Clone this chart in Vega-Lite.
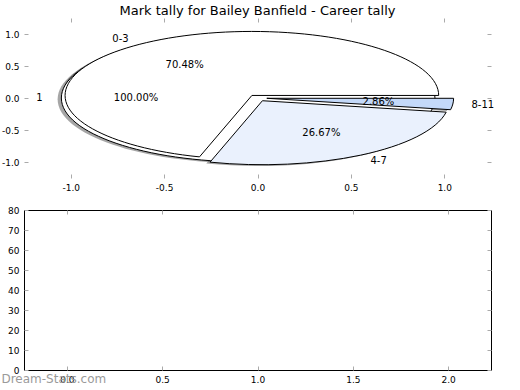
{
  "$schema": "https://vega.github.io/schema/vega-lite/v6.json",
  "background": "white",
  "padding": {"left": 1, "top": 4, "right": 0, "bottom": 0},
  "autosize": {"type": "pad"},
  "datasets": {
    "wedges": [
      {"pie": "a", "label": "1", "value": 105, "pct": "100.00%", "cx": -0.05, "cy": 0, "lx": -1.15, "ly": 0, "px": -0.65, "py": 0},
      {"pie": "b", "label": "0-3", "value": 74, "pct": "70.48%", "cx": -0.03, "cy": 0.04, "lx": -0.6898, "ly": 0.9202, "px": -0.3899, "py": 0.5201},
      {"pie": "b", "label": "4-7", "value": 28, "pct": "26.67%", "cx": 0.0263, "cy": -0.0425, "lx": 0.6045, "ly": -0.9783, "px": 0.3417, "py": -0.5529},
      {"pie": "b", "label": "8-11", "value": 3, "pct": "2.86%", "cx": 0.0498, "cy": -0.0045, "lx": 1.1454, "ly": -0.1031, "px": 0.6474, "py": -0.0583}
    ],
    "empty": [
      {"x": 0, "count": 0},
      {"x": 1, "count": 0},
      {"x": 2, "count": 0}
    ]
  },
  "title": {
    "text": "Dream-Stats.com",
    "orient": "bottom",
    "anchor": "start",
    "frame": "bounds",
    "offset": -11,
    "font": "DejaVu Sans",
    "fontSize": 12,
    "fontWeight": "normal",
    "color": "#9a9a9a"
  },
  "bounds": "flush",
  "spacing": 32,
  "vconcat": [
    {
      "title": {
        "text": "Mark tally for Bailey Banfield - Career tally",
        "font": "DejaVu Sans",
        "fontSize": 13,
        "fontWeight": "normal",
        "color": "black",
        "offset": 0
      },
      "width": 467,
      "height": 160,
      "view": {"stroke": null},
      "data": {"name": "wedges"},
      "layer": [
        {
          "mark": {"type": "point", "filled": true, "size": 139577, "opacity": 0.5, "color": "#4d4d4d", "strokeWidth": 0, "xOffset": -3.74, "yOffset": 1.28},
          "encoding": {
            "x": {"field": "cx", "type": "quantitative", "scale": {"domain": [-1.25, 1.25], "nice": false, "zero": false},
              "axis": {"orient": "bottom", "values": [-1, -0.5, 0, 0.5, 1], "format": ".1f", "title": null}},
            "y": {"field": "cy", "type": "quantitative", "scale": {"domain": [-1.25, 1.25], "nice": false, "zero": false},
              "axis": {"orient": "left", "values": [-1, -0.5, 0, 0.5, 1], "format": ".1f", "title": null}},
            "shape": {"field": "label", "type": "nominal", "legend": null,
              "scale": {"domain": ["1", "0-3", "4-7", "8-11"],
                "range": [
                  "M1 0C1 -0.18922 0.55228 -0.34261 0 -0.34261C-0.55228 -0.34261 -1 -0.18922 -1 0C-1 0.18922 -0.55228 0.34261 0 0.34261C0.55228 0.34261 1 0.18922 1 0Z",
                  "M0 0L1 0C1 -0.17666 0.60794 -0.32436 0.09461 -0.34107C-0.41871 -0.35779 -0.88498 -0.23803 -0.9821 -0.06453C-1.07923 0.10897 -0.77538 0.27932 -0.28043 0.32886Z",
                  "M0 0L-0.28043 0.32886C-0.0084 0.35609 0.28459 0.3425 0.52568 0.29145C0.76677 0.24041 0.93332 0.15672 0.98393 0.06118Z",
                  "M0 0L0.98393 0.06118C0.99462 0.04099 1 0.02052 1 0Z"
                ]}}
          }
        },
        {
          "mark": {"type": "point", "filled": true, "size": 139577, "opacity": 1, "stroke": "black", "strokeWidth": 1, "strokeJoin": "miter"},
          "encoding": {
            "x": {"field": "cx", "type": "quantitative", "scale": {"domain": [-1.25, 1.25], "nice": false, "zero": false}, "axis": null},
            "y": {"field": "cy", "type": "quantitative", "scale": {"domain": [-1.25, 1.25], "nice": false, "zero": false}, "axis": null},
            "shape": {"field": "label", "type": "nominal", "legend": null},
            "fill": {"field": "label", "type": "nominal", "legend": null,
              "scale": {"domain": ["1", "0-3", "4-7", "8-11"], "range": ["#ffffff", "#ffffff", "#eaf1fd", "#c4d9f9"]}}
          }
        },
        {
          "transform": [{"filter": "datum.lx < 0"}],
          "mark": {"type": "text", "align": "right", "baseline": "middle", "font": "DejaVu Sans", "fontSize": 10, "color": "black"},
          "encoding": {
            "x": {"field": "lx", "type": "quantitative", "scale": {"domain": [-1.25, 1.25], "nice": false, "zero": false}, "axis": null},
            "y": {"field": "ly", "type": "quantitative", "scale": {"domain": [-1.25, 1.25], "nice": false, "zero": false}, "axis": null},
            "text": {"field": "label"}
          }
        },
        {
          "transform": [{"filter": "datum.lx >= 0"}],
          "mark": {"type": "text", "align": "left", "baseline": "middle", "font": "DejaVu Sans", "fontSize": 10, "color": "black"},
          "encoding": {
            "x": {"field": "lx", "type": "quantitative", "scale": {"domain": [-1.25, 1.25], "nice": false, "zero": false}, "axis": null},
            "y": {"field": "ly", "type": "quantitative", "scale": {"domain": [-1.25, 1.25], "nice": false, "zero": false}, "axis": null},
            "text": {"field": "label"}
          }
        },
        {
          "mark": {"type": "text", "align": "center", "baseline": "middle", "font": "DejaVu Sans", "fontSize": 10, "color": "black"},
          "encoding": {
            "x": {"field": "px", "type": "quantitative", "scale": {"domain": [-1.25, 1.25], "nice": false, "zero": false}, "axis": null},
            "y": {"field": "py", "type": "quantitative", "scale": {"domain": [-1.25, 1.25], "nice": false, "zero": false}, "axis": null},
            "text": {"field": "pct"}
          }
        },
        {
          "mark": {"type": "point", "opacity": 0},
          "encoding": {
            "x": {"field": "cx", "type": "quantitative", "scale": {"domain": [-1.25, 1.25], "nice": false, "zero": false},
              "axis": {"orient": "top", "values": [-1, -0.5, 0, 0.5, 1], "labels": false, "title": null}},
            "y": {"field": "cy", "type": "quantitative", "scale": {"domain": [-1.25, 1.25], "nice": false, "zero": false},
              "axis": {"orient": "right", "values": [-1, -0.5, 0, 0.5, 1], "labels": false, "title": null}}
          }
        }
      ],
      "resolve": {"axis": {"x": "independent", "y": "independent"}}
    },
    {
      "width": 467,
      "height": 160,
      "view": {"stroke": "black", "strokeWidth": 1},
      "data": {"name": "empty"},
      "layer": [
        {
          "mark": {"type": "point", "opacity": 0},
          "encoding": {
            "x": {"field": "x", "type": "quantitative", "scale": {"domain": [-0.225, 2.225], "nice": false, "zero": false},
              "axis": {"orient": "bottom", "values": [0, 0.5, 1, 1.5, 2], "format": ".1f", "title": null}},
            "y": {"field": "count", "type": "quantitative", "scale": {"domain": [0, 80], "nice": false},
              "axis": {"orient": "left", "values": [0, 10, 20, 30, 40, 50, 60, 70, 80], "format": "d", "title": null}}
          }
        },
        {
          "mark": {"type": "point", "opacity": 0},
          "encoding": {
            "x": {"field": "x", "type": "quantitative", "scale": {"domain": [-0.225, 2.225], "nice": false, "zero": false},
              "axis": {"orient": "top", "values": [0, 0.5, 1, 1.5, 2], "labels": false, "title": null}},
            "y": {"field": "count", "type": "quantitative", "scale": {"domain": [0, 80], "nice": false},
              "axis": {"orient": "right", "values": [0, 10, 20, 30, 40, 50, 60, 70, 80], "labels": false, "title": null}}
          }
        }
      ],
      "resolve": {"axis": {"x": "independent", "y": "independent"}}
    }
  ],
  "config": {
    "view": {"stroke": null},
    "axis": {
      "domain": false,
      "grid": false,
      "tickSize": -4,
      "tickColor": "#aaaaaa",
      "tickWidth": 1,
      "labelFont": "DejaVu Sans",
      "labelFontSize": 9,
      "labelColor": "black",
      "labelPadding": 9,
      "labelFlush": false,
      "labelOverlap": false,
      "labelExpr": "replace(datum.label, '\u2212', '-')"
    }
  }
}
